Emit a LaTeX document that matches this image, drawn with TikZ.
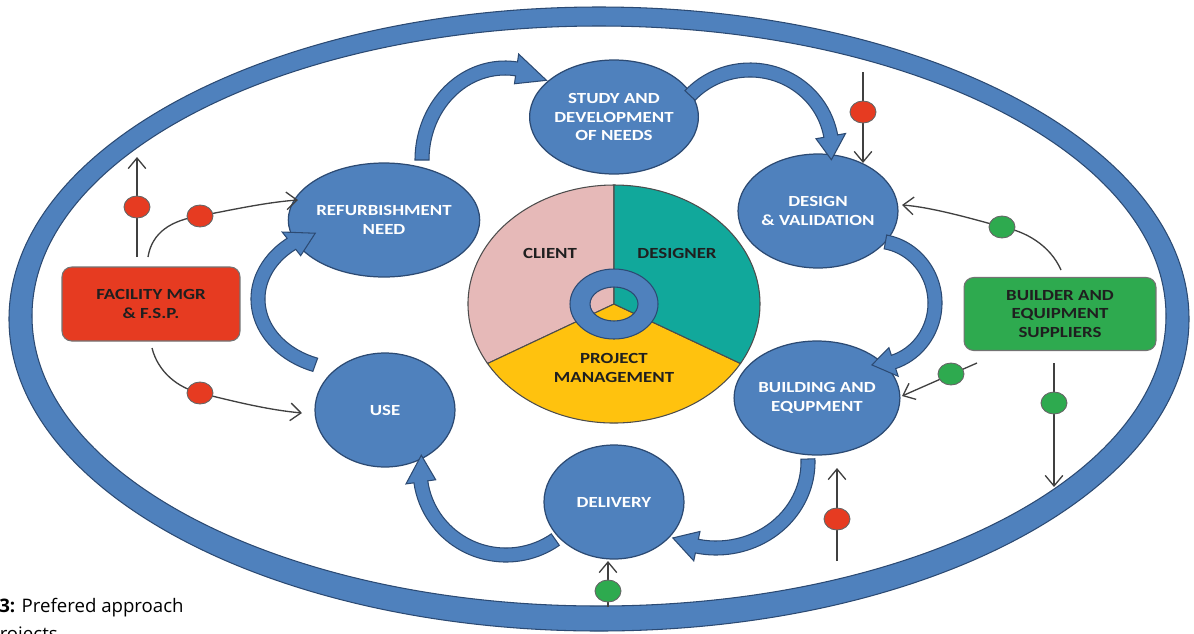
\documentclass[tikz,border=0pt]{standalone}
\usepackage{fontspec}
\setmainfont{Carlito}
\newfontfamily\lbl[FakeStretch=1.22]{Carlito}
\newfontfamily\capfont{Open Sans}
\usetikzlibrary{shapes.geometric,arrows.meta}
\definecolor{cblue}{HTML}{4F81BD}
\definecolor{cdark}{HTML}{2C4A73}
\definecolor{cred}{HTML}{E63B21}
\definecolor{cgreen}{HTML}{2EAA4F}
\definecolor{cpink}{HTML}{E6B9B8}
\definecolor{cteal}{HTML}{11A89B}
\definecolor{cyellow}{HTML}{FFC20E}
\definecolor{cline}{HTML}{404040}
\newcommand\blockarr[9]{%
 \begin{scope}[shift={(#1,#2)}]
 \filldraw[barrow] (#5:{#3+#8} and {#4+#8}) arc[start angle=#5, end angle=#6, x radius={#3+#8}, y radius={#4+#8}]
 -- (#6:{#3+#8+#9} and {#4+#8+#9}) -- (#7:#3 and #4) -- (#6:{#3-#8-#9} and {#4-#8-#9}) -- (#6:{#3-#8} and {#4-#8})
 arc[start angle=#6, end angle=#5, x radius={#3-#8}, y radius={#4-#8}] -- cycle;
 \end{scope}}
\begin{document}
\begin{tikzpicture}[x=0.02cm,y=-0.02cm,
 stage/.style={ellipse, fill=cblue, draw=cdark, line width=0.7pt, inner sep=0pt,
   minimum width=2.8cm, minimum height=2.28cm, text=white, align=center,
   font=\lbl\bfseries\fontsize{8.8}{10.5}\selectfont},
 pielbl/.style={inner sep=0pt, align=center, text=black!88, font=\lbl\bfseries\fontsize{8.8}{10.8}\selectfont},
 boxlbl/.style={rectangle, rounded corners=5.5pt, draw=black!55, line width=0.6pt, align=center,
   text=black!88, font=\lbl\bfseries\fontsize{8.8}{10.4}\selectfont},
 barrow/.style={fill=cblue, draw=cdark, line width=0.6pt},
 conn/.style={draw=cline, line width=0.75pt, -{Straight Barb[length=6pt,width=10pt]}},
 reddot/.style={ellipse, fill=cred, draw=black!60, line width=0.5pt, minimum width=0.52cm, minimum height=0.44cm, inner sep=0pt},
 greendot/.style={ellipse, fill=cgreen, draw=black!60, line width=0.5pt, minimum width=0.52cm, minimum height=0.44cm, inner sep=0pt}]
\useasboundingbox (0,0) rectangle (1194,633);
\fill[white] (0,0) rectangle (1194,633);
% outer ring
\fill[cblue, even odd rule] (599,319) ellipse[x radius=590, y radius=312] (599,316) ellipse[x radius=567, y radius=290];
\draw[cdark, line width=0.6pt] (599,319) ellipse[x radius=590, y radius=312] (599,316) ellipse[x radius=567, y radius=290];
% stages
\node[stage] (study) at (614,117) {STUDY AND\\DEVELOPMENT\\OF NEEDS};
\node[stage] (refurb) at (384,220) {REFURBISHMENT\\NEED};
\node[stage] (design) at (818,211) {DESIGN\\\& VALIDATION};
\node[stage] (build) at (817,398) {BUILDING AND\\EQUPMENT};
\node[stage] (deliv) at (614,502) {DELIVERY};
\node[stage] (use) at (385,410) {USE};
% curved block arrows
\blockarr{505}{160}{83}{92}{180}{278}{300}{7}{8}
\blockarr{750}{150}{82}{80}{223}{350}{367}{7}{8}
\blockarr{875}{303}{60}{62}{280}{432}{453}{7}{8}
\blockarr{716}{462}{92}{86}{-2}{102}{118}{7}{8}
\blockarr{506}{470}{86}{85}{55}{172}{190}{7}{8}
\blockarr{345}{299}{87}{70}{110}{232}{250}{7}{8}
% pie
\begin{scope}[shift={(614,304)}]
 \filldraw[fill=cpink, draw=black!70, line width=0.6pt] (0,0) -- (150:146 and 119) arc[start angle=150, end angle=270, x radius=146, y radius=119] -- cycle;
 \filldraw[fill=cyellow, draw=black!70, line width=0.6pt] (0,0) -- (30:146 and 119) arc[start angle=30, end angle=150, x radius=146, y radius=119] -- cycle;
 \filldraw[fill=cteal, draw=black!70, line width=0.6pt] (0,0) -- (270:146 and 119) arc[start angle=270, end angle=390, x radius=146, y radius=119] -- cycle;
 \filldraw[fill=cblue, draw=cdark, line width=0.6pt, even odd rule] (0,0) ellipse[x radius=44, y radius=35] (0,0) ellipse[x radius=24, y radius=17];
\end{scope}
\node[pielbl] (client) at (550,253) {CLIENT};
\node[pielbl] (designer) at (677,253) {DESIGNER};
\node[pielbl] (pm) at (614,368) {PROJECT\\MANAGEMENT};
% actor boxes
\node[boxlbl, fill=cred, minimum width=3.56cm, minimum height=1.48cm] (fac) at (151,304) {FACILITY MGR\\\& F.S.P.};
\node[boxlbl, fill=cgreen, minimum width=3.84cm, minimum height=1.46cm] (sup) at (1060,314) {BUILDER AND\\EQUIPMENT\\SUPPLIERS};
% connector coordinates
\coordinate (a0) at (137,257); \coordinate (pa) at (137,207); \coordinate (a1) at (137,157);
\coordinate (b0) at (148,257); \coordinate (pb) at (200,216); \coordinate (b1) at (298,200);
\coordinate (c0) at (152,348); \coordinate (pc) at (200,393); \coordinate (c1) at (302,413);
\coordinate (d0) at (863,72);  \coordinate (pd) at (863,112); \coordinate (d1) at (863,163);
\coordinate (e0) at (1061,270); \coordinate (pe) at (1002,227); \coordinate (e1) at (902,205);
\coordinate (f0) at (977,363); \coordinate (pf) at (951,374); \coordinate (f1) at (902,396);
\coordinate (g0) at (1054,363); \coordinate (pg) at (1054,403); \coordinate (g1) at (1054,487);
\coordinate (h0) at (837,561); \coordinate (ph) at (837,519); \coordinate (h1) at (837,468);
\coordinate (i0) at (608,607); \coordinate (pi) at (608,591); \coordinate (i1) at (608,561);
\draw[conn] (a0) -- (a1);
\draw[conn] (b0) .. controls (152,232) and (172,220) .. (pb) .. controls (240,208) and (270,202) .. (b1);
\draw[conn] (c0) .. controls (158,372) and (178,388) .. (pc) .. controls (240,403) and (270,410) .. (c1);
\draw[conn] (d0) -- (d1);
\draw[conn] (e0) .. controls (1050,245) and (1025,231) .. (pe) .. controls (970,218) and (930,207) .. (e1);
\draw[conn] (f0) -- (f1);
\draw[conn] (g0) -- (g1);
\draw[conn] (h0) -- (h1);
\draw[conn] (i0) -- (i1);
\node[reddot] (da) at (pa) {};
\node[reddot] (db) at (pb) {};
\node[reddot] (dc) at (pc) {};
\node[reddot] (dd) at (pd) {};
\node[greendot] (de) at (pe) {};
\node[greendot] (df) at (pf) {};
\node[greendot] (dg) at (pg) {};
\node[reddot] (dh) at (ph) {};
\node[greendot] (di) at (pi) {};
% caption (cut off at the left and bottom edges, as in the reference)
\begin{scope}
\clip (0,0) rectangle (1194,633);
\node[anchor=base west, inner sep=0pt, font=\capfont\fontsize{10.6}{14}\selectfont] (cap1) at (-1,612) {\textbf{3:} Prefered approach};
\node[anchor=base west, inner sep=0pt, font=\capfont\fontsize{10.6}{14}\selectfont] (cap2) at (-12,640) {projects};
\end{scope}
\end{tikzpicture}
\end{document}
